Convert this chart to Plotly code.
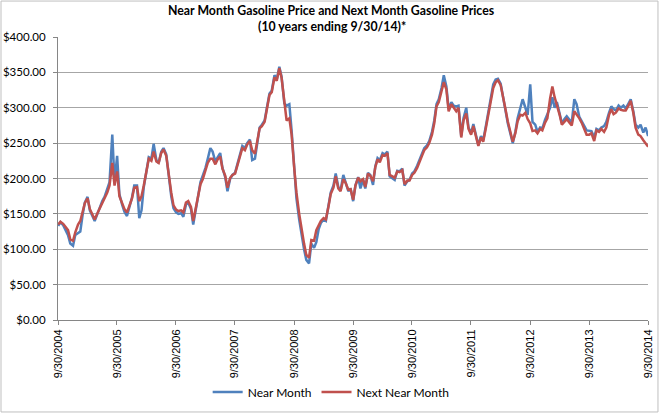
import pandas as pd
import plotly.graph_objects as go

# semi-monthly readings, 10/1/2004 .. 10/1/2014 (cents per gallon)
dates = pd.date_range("2004-10-01", periods=241, freq="SMS")

near_month = [
    133, 138, 134, 128, 120, 108, 105, 120, 123, 125, 148, 166, 174, 155, 147, 140, 150, 160, 168, 174, 185, 195, 262, 195,
    232, 178, 163, 153, 147, 158, 173, 190, 190, 144, 155, 188, 215, 230, 228, 249, 226, 222, 238, 243, 234, 203, 175, 158,
    152, 150, 151, 146, 163, 166, 157, 135, 155, 176, 195, 203, 215, 228, 243, 238, 224, 230, 236, 215, 202, 182, 200, 205,
    208, 220, 236, 246, 243, 250, 255, 226, 228, 250, 272, 276, 282, 300, 320, 324, 346, 340, 358, 344, 306, 303, 305, 268,
    210, 172, 142, 120, 100, 85, 80, 108, 102, 110, 128, 137, 142, 140, 160, 180, 190, 207, 188, 183, 205, 196, 182, 186,
    168, 190, 202, 186, 198, 186, 208, 205, 191, 217, 229, 226, 236, 234, 238, 203, 200, 198, 211, 210, 214, 190, 196, 198,
    207, 210, 218, 225, 235, 243, 247, 253, 266, 282, 305, 312, 328, 346, 330, 298, 308, 303, 302, 303, 260, 285, 300, 272,
    264, 277, 258, 247, 260, 254, 275, 292, 312, 333, 340, 341, 334, 318, 296, 278, 264, 250, 266, 285, 300, 312, 300, 290,
    333, 280, 276, 266, 272, 271, 283, 290, 300, 315, 300, 308, 292, 278, 284, 288, 283, 279, 312, 305, 287, 280, 274, 268,
    268, 267, 258, 270, 268, 272, 274, 280, 293, 302, 298, 296, 303, 300, 303, 299, 306, 312, 295, 276, 272, 276, 265, 272, 260,
]

next_month = [
    135, 139, 136, 131, 127, 114, 112, 124, 135, 140, 151, 165, 172, 157, 149, 142, 151, 158, 165, 171, 180, 190, 222, 190,
    210, 175, 165, 157, 152, 160, 172, 187, 188, 168, 175, 190, 212, 228, 225, 238, 224, 222, 236, 241, 232, 205, 180, 162,
    156, 154, 155, 152, 166, 168, 160, 140, 158, 176, 192, 199, 211, 222, 228, 228, 220, 227, 231, 214, 204, 187, 201, 205,
    207, 218, 232, 243, 240, 248, 253, 240, 235, 252, 271, 274, 280, 298, 318, 322, 343, 338, 356, 342, 305, 282, 285, 262,
    215, 180, 150, 128, 108, 92, 88, 113, 112, 127, 133, 140, 144, 142, 160, 178, 187, 203, 186, 182, 199, 194, 184, 185,
    170, 190, 201, 196, 199, 188, 207, 204, 196, 216, 227, 223, 233, 232, 236, 205, 203, 201, 210, 209, 212, 192, 197, 197,
    205, 208, 215, 222, 232, 240, 244, 250, 262, 278, 302, 308, 324, 336, 326, 295, 305, 300, 295, 300, 258, 282, 292, 270,
    262, 274, 256, 246, 258, 252, 272, 288, 308, 328, 336, 339, 332, 318, 298, 281, 266, 252, 264, 281, 290, 289, 293, 284,
    278, 267, 268, 264, 270, 268, 279, 285, 313, 330, 315, 305, 290, 276, 281, 284, 279, 275, 295, 291, 285, 279, 268, 262,
    262, 264, 253, 268, 266, 270, 266, 272, 290, 298, 291, 293, 299, 297, 296, 296, 303, 310, 293, 272, 262, 260, 254, 250, 245,
]

tick_dates = ["%d-09-30" % y for y in range(2004, 2015)]
tick_labels = ["9/30/%d" % y for y in range(2004, 2015)]

title_lines = ["Near Month Gasoline Price and Next Month Gasoline Prices",
               "(10 years ending 9/30/14)*"]

fig = go.Figure()
fig.add_trace(go.Scatter(
    x=dates, y=near_month, mode="lines", name="Near Month",
    line=dict(color="#4F81BD", width=2.5)
))
fig.add_trace(go.Scatter(
    x=dates, y=next_month, mode="lines", name="Next Near Month",
    line=dict(color="#C0504D", width=2.5)
))

fig.update_layout(
    width=660, height=414, autosize=False,
    margin=dict(l=58, r=12, t=37, b=94, autoexpand=False),
    paper_bgcolor="white", plot_bgcolor="white",
    legend=dict(
        orientation="h", x=0.463, xanchor="center",
        y=-0.254, yanchor="middle",
        font=dict(family="Lato", size=12, color="black"),
        bgcolor="rgba(0,0,0,0)"
    ),
    showlegend=True,
)

# two-line bold title
for txt, ty in zip(title_lines, [1.092, 1.037]):
    fig.add_annotation(text="<b>%s</b>" % txt, xref="paper", yref="paper",
                       x=0.464, y=ty, xanchor="center", yanchor="middle",
                       showarrow=False,
                       font=dict(family="Lato", size=12.3, color="black"))

fig.update_xaxes(
    type="date", range=["2004-09-30", "2014-09-30"],
    tickvals=tick_dates, ticktext=tick_labels, tickangle=-90,
    tickfont=dict(family="Liberation Sans", size=11, color="black"),
    showgrid=False, showline=True, linecolor="#868686", linewidth=1,
    ticks="outside", ticklen=4, tickcolor="#868686", zeroline=False
)
fig.update_yaxes(
    range=[0, 400], dtick=50, tickprefix="$", tickformat=".2f",
    tickfont=dict(family="Lato", size=11.5, color="black"),
    showgrid=True, gridcolor="#a6a6a6", gridwidth=1,
    showline=True, linecolor="#868686", linewidth=1,
    ticks="outside", ticklen=4, tickcolor="#868686", zeroline=False,
    ticklabelstandoff=5
)

# chart area border
fig.add_shape(type="rect", xref="paper", yref="paper",
              x0=-0.0966, x1=1.0169, y0=-0.325, y1=1.127,
              line=dict(color="#bfbfbf", width=1), layer="below")

fig.write_html("out.html", config={"displayModeBar": False},
               post_script="document.body.style.margin='0px';")
